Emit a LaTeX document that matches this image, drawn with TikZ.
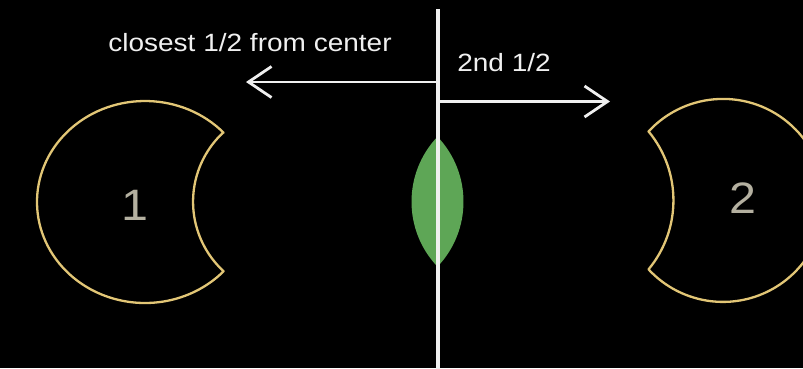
\documentclass[tikz,border=0pt]{standalone}
\usepackage{fontspec}
\setmainfont{Liberation Sans}
\usetikzlibrary{arrows.meta}
\definecolor{gold}{RGB}{226,198,118}
\definecolor{leaf}{RGB}{94,166,86}
\definecolor{digit}{RGB}{180,176,160}
\definecolor{chalk}{RGB}{240,240,240}
\begin{document}
\begin{tikzpicture}[x=1pt,y=-1pt,
  outline/.style={draw=gold,line width=2.3pt,line join=round},
  divider/.style={draw=chalk,line width=3.5pt},
  halfarrow/.style={draw=chalk,line width=2.8pt,-{Straight Barb[length=23pt,width=31pt,line width=2.8pt]}},
  caption/.style={text=chalk,font=\fontsize{25}{30}\selectfont,inner sep=0pt},
  digitlabel/.style={text=digit,font=\fontsize{44}{50}\selectfont,inner sep=0pt}]
\fill[black] (0,0) rectangle (803,368);
\useasboundingbox (0,0) rectangle (803,368);
\clip (0,0) rectangle (803,368);

% shapes
\draw[outline] ([shift={(145,202)}]-43.3:108 and 101)
  arc[start angle=-43.3,end angle=-316.7,x radius=108,y radius=101]
  arc[start angle=132.6,end angle=227.2,radius=94.5] -- cycle;
\draw[outline] ([shift={(723,200.4)}]-137.2:101.5)
  arc[start angle=-137.2,end angle=137.2,radius=101.5]
  arc[start angle=39.7,end angle=-39.7,radius=108] -- cycle;

% lens
\fill[leaf] (437.5,136.7)
  arc[start angle=223.6,end angle=136.4,radius=94.25]
  arc[start angle=43.6,end angle=-43.6,radius=94.25] -- cycle;

% coordinates
\coordinate (axisTop) at (438,9);
\coordinate (axisBot) at (438,372);
\coordinate (leftFrom) at (438,82);
\coordinate (leftTo) at (246,82);
\coordinate (rightFrom) at (438,101.5);
\coordinate (rightTo) at (610,101.5);

\draw[halfarrow] (leftFrom) -- (leftTo);
\draw[halfarrow] (rightFrom) -- (rightTo);
\draw[divider] (axisTop) -- (axisBot);

% texts
\node[caption,anchor=base] (closest) at (250,51) {\scalebox{1.12}[1]{closest 1/2 from center}};
\node[caption,anchor=base] (second) at (504,71.5) {\scalebox{1.12}[1]{2nd 1/2}};
\node[digitlabel,anchor=base] (one) at (135,220) {\scalebox{1.1}[1]{1}};
\node[digitlabel,anchor=base] (two) at (743,213.5) {\scalebox{1.1}[1]{2}};
\end{tikzpicture}
\end{document}
